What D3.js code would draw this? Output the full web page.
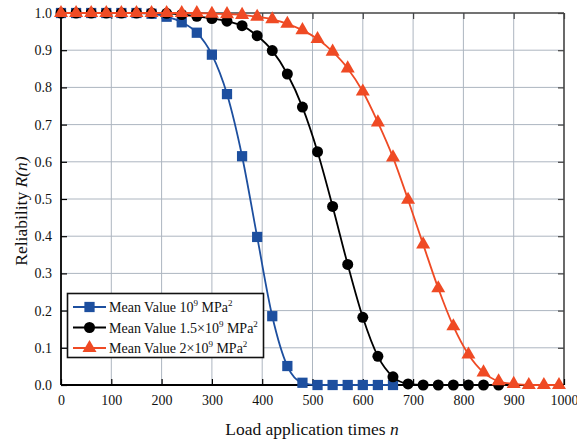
<!DOCTYPE html>
<html><head><meta charset="utf-8">
<script src="https://cdn.jsdelivr.net/npm/d3@7"></script>
<style>body{margin:0;background:#fff}svg{display:block}svg text{font-family:'Liberation Serif','DejaVu Serif',serif !important;fill:#111}</style>
</head><body><svg id="c" width="577" height="442"></svg>
<script>
const xTicks=[0,100,200,300,400,500,600,700,800,900,1000];
const yTicks=[0,0.1,0.2,0.3,0.4,0.5,0.6,0.7,0.8,0.9,1.0];
const nBlue=[0,30,60,90,120,150,180,210,240,270,300,330,360,390,420,450,480,510,540,570,600,630,660];
const rBlue=[1,1,1,1,1,1,0.998,0.990,0.975,0.947,0.888,0.782,0.615,0.398,0.185,0.051,0.006,0,0,0,0,0,0];
const nBlack=[0,30,60,90,120,150,180,210,240,270,300,330,360,390,420,450,480,510,540,570,600,630,660,690,720,750,780,810,840,870];
const rBlack=[1,1,1,1,1,1,1,0.999,0.996,0.991,0.985,0.978,0.966,0.939,0.899,0.836,0.747,0.627,0.480,0.324,0.182,0.077,0.022,0.003,0,0,0,0,0,0];
const nRed=[0,30,60,90,120,150,180,210,240,270,300,330,360,390,420,450,480,510,540,570,600,630,660,690,720,750,780,810,840,870,900,930,960,990];
const rRed=[1,1,1,1,1,1,1,1,1,1,0.998,0.997,0.995,0.990,0.983,0.971,0.954,0.930,0.896,0.851,0.789,0.706,0.612,0.498,0.378,0.260,0.158,0.082,0.034,0.010,0.003,0,0,0];
const seriesNames=[["Mean Value 10","9"," MPa","2"],["Mean Value 1.5×10","9"," MPa","2"],["Mean Value 2×10","9"," MPa","2"]];

const FONT="'Liberation Serif','DejaVu Serif',serif";
const svg=d3.select("#c");
const L=61,T=13,R=564,B=385;
const x=d3.scaleLinear().domain([0,1000]).range([L,R]);
const y=d3.scaleLinear().domain([0,1]).range([B,T]);
const g=svg.append("g");
g.selectAll(".gx").data(xTicks.slice(1,-1)).enter().append("line")
 .attr("x1",d=>x(d)).attr("x2",d=>x(d)).attr("y1",T).attr("y2",B).attr("stroke","#adb6c0").attr("stroke-width",1);
g.selectAll(".gy").data(yTicks.slice(1,-1)).enter().append("line")
 .attr("y1",d=>y(d)).attr("y2",d=>y(d)).attr("x1",L).attr("x2",R).attr("stroke","#adb6c0").attr("stroke-width",1);
const ax=d3.axisBottom(x).tickValues(xTicks).tickSize(-6).tickPadding(10).tickFormat(d3.format("d"));
const ay=d3.axisLeft(y).tickValues(yTicks).tickSize(-6).tickPadding(9).tickFormat(d3.format(".1f"));
const axT=d3.axisTop(x).tickValues(xTicks).tickSize(-6).tickFormat("");
const ayR=d3.axisRight(y).tickValues(yTicks).tickSize(-6).tickFormat("");
function style(sel,c,w){sel.attr("font-family",FONT);sel.selectAll("path").attr("stroke",c).attr("stroke-width",w);sel.selectAll("line").attr("stroke",c).attr("stroke-width",1.2);sel.selectAll("text").attr("font-size",14).attr("fill","#111");}
style(svg.append("g").attr("transform",`translate(0,${T})`).call(axT).call(s=>s.selectAll("path").attr("d",`M${L},0H${R}`)),"#444",1.6);
style(svg.append("g").attr("transform",`translate(${R},0)`).call(ayR).call(s=>s.selectAll("path").attr("d",`M0,${T}V${B}`)),"#444",1.6);
style(svg.append("g").attr("transform",`translate(0,${B})`).call(ax).call(s=>s.selectAll("path").attr("d",`M${L},0H${R}`)),"#000",1.8);
style(svg.append("g").attr("transform",`translate(${L},0)`).call(ay).call(s=>s.selectAll("path").attr("d",`M0,${T}V${B}`)),"#000",1.8);

const series=[
 {n:nBlue,r:rBlue,c:"#1d4f9f",m:d3.symbolSquare,s:105},
 {n:nBlack,r:rBlack,c:"#000000",m:d3.symbolCircle,s:95},
 {n:nRed,r:rRed,c:"#ef4a24",m:d3.symbolTriangle,s:85}
];
const line=d3.line().x(d=>x(d[0])).y(d=>y(d[1])).curve(d3.curveMonotoneX);
series.forEach(sr=>{
 const pts=sr.n.map((v,i)=>[v,sr.r[i]]);
 svg.append("path").attr("d",line(pts)).attr("fill","none").attr("stroke",sr.c).attr("stroke-width",1.8);
 svg.selectAll(null).data(pts).enter().append("path")
  .attr("d",d3.symbol().type(sr.m).size(sr.s)).attr("transform",d=>`translate(${x(d[0])},${y(d[1])})`).attr("fill",sr.c);
});
const lg=svg.append("g").attr("font-family",FONT);
lg.append("rect").attr("x",67.5).attr("y",293.5).attr("width",196).attr("height",64).attr("fill","#fff").attr("stroke","#111").attr("stroke-width",1.6);
series.forEach((sr,i)=>{
 const yy=307+i*20.5;
 lg.append("line").attr("x1",73).attr("x2",106).attr("y1",yy).attr("y2",yy).attr("stroke",sr.c).attr("stroke-width",1.8);
 lg.append("path").attr("d",d3.symbol().type(sr.m).size(sr.s)).attr("transform",`translate(89.5,${yy})`).attr("fill",sr.c);
 const t=lg.append("text").attr("x",109).attr("y",yy+5).attr("font-size",14);
 const nm=seriesNames[i];
 t.append("tspan").text(nm[0]);
 t.append("tspan").text(nm[1]).attr("font-size",9).attr("dy",-6);
 t.append("tspan").text(nm[2]).attr("dy",6);
 t.append("tspan").text(nm[3]).attr("font-size",9).attr("dy",-6);
});
const xt=svg.append("text").attr("x",312).attr("y",435).attr("text-anchor","middle").attr("font-size",17.5).attr("font-family",FONT);
xt.append("tspan").text("Load application times ");
xt.append("tspan").text("n").attr("font-style","italic");
const yt=svg.append("text").attr("transform","translate(27,211) rotate(-90)").attr("text-anchor","middle").attr("font-size",17.5).attr("font-family",FONT);
yt.append("tspan").text("Reliability ");
yt.append("tspan").text("R(n)").attr("font-style","italic");
</script></body></html>
